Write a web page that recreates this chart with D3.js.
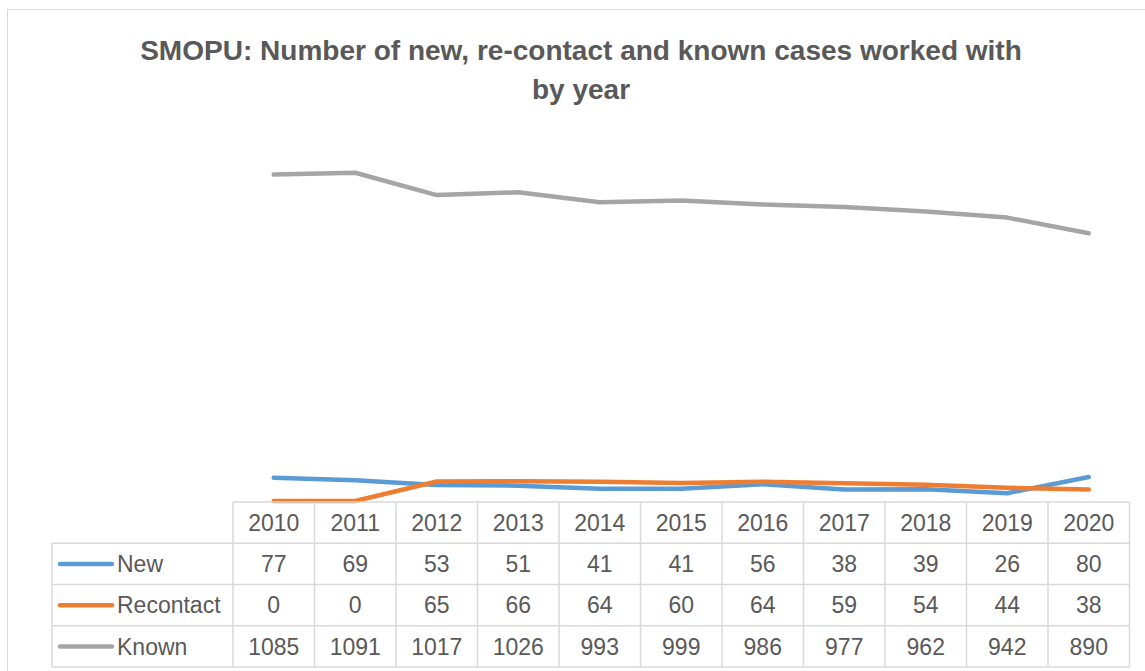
<!DOCTYPE html>
<html>
<head>
<meta charset="utf-8">
<script src="https://cdn.jsdelivr.net/npm/d3@7"></script>
<style>
  body { margin: 0; background: #fff; }
  svg { display: block; }
</style>
</head>
<body>
<div id="chart"></div>
<script>
// --- Data ---
const years = ["2010", "2011", "2012", "2013", "2014", "2015", "2016", "2017", "2018", "2019", "2020"];
const seriesNames = ["New", "Recontact", "Known"];
const newCases = [77, 69, 53, 51, 41, 41, 56, 38, 39, 26, 80];
const recontactCases = [0, 0, 65, 66, 64, 60, 64, 59, 54, 44, 38];
const knownCases = [1085, 1091, 1017, 1026, 993, 999, 986, 977, 962, 942, 890];
const seriesColors = ["#5B9BD5", "#ED7D31", "#A5A5A5"];
const titleLines = ["SMOPU: Number of new, re-contact and known cases worked with", "by year"];

const series = seriesNames.map((name, i) => ({
  name: name,
  color: seriesColors[i],
  values: [newCases, recontactCases, knownCases][i]
}));

// --- Setup ---
const width = 1145, height = 671;
const svg = d3.select("#chart").append("svg")
  .attr("width", width).attr("height", height);

// chart frame
svg.append("rect")
  .attr("x", 7.5).attr("y", 9.5)
  .attr("width", width + 10).attr("height", height + 10)
  .attr("fill", "#fff").attr("stroke", "#D9D9D9").attr("stroke-width", 1);

// --- Title ---
const title = svg.append("g").attr("fill", "#595959")
  .attr("font-family", "'Liberation Sans', Arial, sans-serif")
  .attr("font-weight", "bold");
const t1 = title.append("text").attr("x", 581).attr("y", 60)
  .attr("text-anchor", "middle").attr("font-size", 26).text(titleLines[0]);
// fit first line to the width seen in the picture
const w1 = t1.node().getComputedTextLength();
const titleSize = 26 * 882 / w1;
t1.attr("font-size", titleSize);
title.append("text").attr("x", 581).attr("y", 99)
  .attr("text-anchor", "middle").attr("font-size", titleSize).text(titleLines[1]);

// --- Scales ---
const x = d3.scaleBand().domain(years).range([233, 1129.5]);
const y = d3.scaleLinear().domain([0, 1200]).range([501, 140]);
const px = d => x(d) + x.bandwidth() / 2;

// --- Lines ---
const line = d3.line()
  .x((d, i) => px(years[i]))
  .y(d => y(d));

svg.append("g").selectAll("path")
  .data(series)
  .join("path")
  .attr("d", d => line(d.values))
  .attr("fill", "none")
  .attr("stroke", d => d.color)
  .attr("stroke-width", 4.5)
  .attr("stroke-linejoin", "round")
  .attr("stroke-linecap", "round");

// --- Data table ---
const rowY = d3.scaleBand().domain(["head"].concat(seriesNames)).range([502, 667]);
const legendLeft = 52;
const tableRight = 1129.5;
const gridColor = "#D9D9D9";
const table = svg.append("g");

// horizontal rules
const hLines = [
  { y: rowY("head"), x1: x(years[0]), x2: tableRight }
].concat(seriesNames.map(n => ({ y: rowY(n), x1: legendLeft, x2: tableRight })))
 .concat([{ y: rowY("Known") + rowY.bandwidth(), x1: legendLeft, x2: tableRight }]);

table.selectAll("line.h").data(hLines).join("line")
  .attr("class", "h")
  .attr("x1", d => d.x1).attr("x2", d => d.x2)
  .attr("y1", d => d.y).attr("y2", d => d.y)
  .attr("stroke", gridColor).attr("stroke-width", 1.5);

// vertical rules
const vLines = [{ x: legendLeft, y1: rowY("New") }]
  .concat(years.map(yr => ({ x: x(yr), y1: rowY("head") })))
  .concat([{ x: tableRight, y1: rowY("head") }]);

table.selectAll("line.v").data(vLines).join("line")
  .attr("class", "v")
  .attr("x1", d => d.x).attr("x2", d => d.x)
  .attr("y1", d => d.y1).attr("y2", rowY("Known") + rowY.bandwidth())
  .attr("stroke", gridColor).attr("stroke-width", 1.5);

const txt = table.append("g")
  .attr("font-family", "'Liberation Sans', Arial, sans-serif")
  .attr("font-size", 23)
  .attr("fill", "#595959");

// year header
txt.selectAll("text.yr").data(years).join("text")
  .attr("class", "yr")
  .attr("x", d => px(d))
  .attr("y", rowY("head") + rowY.bandwidth() / 2)
  .attr("dy", "0.36em")
  .attr("text-anchor", "middle")
  .text(d => d);

// series rows
const rows = txt.selectAll("g.row").data(series).join("g").attr("class", "row")
  .attr("transform", d => `translate(0,${rowY(d.name) + rowY.bandwidth() / 2})`);

rows.append("line")
  .attr("x1", 60).attr("x2", 112)
  .attr("stroke", d => d.color).attr("stroke-width", 4.5)
  .attr("stroke-linecap", "round");

rows.append("text")
  .attr("x", 117).attr("dy", "0.36em")
  .text(d => d.name);

rows.selectAll("text.val").data(d => d.values).join("text")
  .attr("class", "val")
  .attr("x", (d, i) => px(years[i]))
  .attr("dy", "0.36em")
  .attr("text-anchor", "middle")
  .text(d => d);
</script>
</body>
</html>
